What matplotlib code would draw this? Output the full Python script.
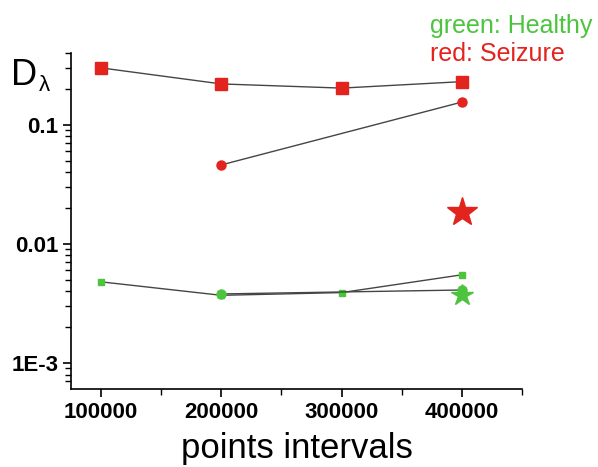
import matplotlib
matplotlib.use('Agg')
import matplotlib.pyplot as plt
from matplotlib.ticker import FixedLocator, LogLocator, MultipleLocator, NullFormatter

plt.rcParams['font.family'] = ['Liberation Sans', 'DejaVu Sans']

# data
x_all = [100000, 200000, 300000, 400000]
red_sq = [0.30, 0.22, 0.203, 0.23]
red_circ_x = [200000, 400000]
red_circ = [0.046, 0.155]
red_star_x = [400000]
red_star = [0.0185]
green_sq = [0.0048, 0.0037, 0.0039, 0.0055]
green_circ_x = [200000, 400000]
green_circ = [0.0038, 0.0041]
green_star_x = [400000]
green_star = [0.0037]

ytick_vals = [1e-3, 1e-2, 1e-1]
ytick_labels = ['1E-3', '0.01', '0.1']

RED = '#e2231e'
GREEN = '#4cc43e'
LINE = '#454545'

fig = plt.figure(figsize=(5.98, 4.67), dpi=100)
ax = fig.add_axes([0.1187, 0.167, 0.7543, 0.7195])

ax.plot(x_all, red_sq, '-', color=LINE, lw=1, marker='s', ms=8.5,
        mfc=RED, mec=RED, zorder=3)
ax.plot(red_circ_x, red_circ, '-', color=LINE, lw=1, marker='o', ms=6.5,
        mfc=RED, mec=RED, zorder=3)
ax.plot(x_all, green_sq, '-', color=LINE, lw=1, marker='s', ms=4.5,
        mfc=GREEN, mec=GREEN, zorder=3)
ax.plot(green_circ_x, green_circ, '-', color=LINE, lw=1, marker='o', ms=6.5,
        mfc=GREEN, mec=GREEN, zorder=3)
ax.plot(red_star_x, red_star, linestyle='none', marker='*', ms=22,
        mfc=RED, mec=RED, zorder=4)
ax.plot(green_star_x, green_star, linestyle='none', marker='*', ms=16,
        mfc=GREEN, mec=GREEN, zorder=4)

ax.set_yscale('log')
ax.set_xlim(75000, 450000)
ax.set_ylim(6.05e-4, 0.4)

ax.xaxis.set_major_locator(FixedLocator(x_all))
ax.xaxis.set_minor_locator(MultipleLocator(50000))
ax.set_xticklabels([str(v) for v in x_all])
ax.yaxis.set_major_locator(FixedLocator(ytick_vals))
ax.set_yticklabels(ytick_labels)
ax.yaxis.set_minor_locator(LogLocator(base=10, subs=range(2, 10)))
ax.yaxis.set_minor_formatter(NullFormatter())

for s in ['top', 'right']:
    ax.spines[s].set_visible(False)
for s in ['left', 'bottom']:
    ax.spines[s].set_linewidth(1.2)

ax.tick_params(which='major', direction='out', length=6, width=1.2,
               labelsize=16, pad=3)
ax.tick_params(which='minor', direction='out', length=4, width=1.0)
for lab in ax.get_xticklabels() + ax.get_yticklabels():
    lab.set_fontweight('bold')

ax.set_xlabel('points intervals', fontsize=25, labelpad=7)

fig.text(11 / 598, 1 - 85 / 467, 'D', fontsize=26, ha='left', va='baseline')
fig.text(39 / 598, 1 - 91 / 467, 'λ', fontsize=16, ha='left', va='baseline')

fig.text(430 / 598, 1 - 33 / 467, 'green: Healthy', fontsize=18,
         color=GREEN, ha='left', va='baseline')
fig.text(430 / 598, 1 - 61 / 467, 'red: Seizure', fontsize=18,
         color=RED, ha='left', va='baseline')

fig.savefig('out.png', dpi=100)
